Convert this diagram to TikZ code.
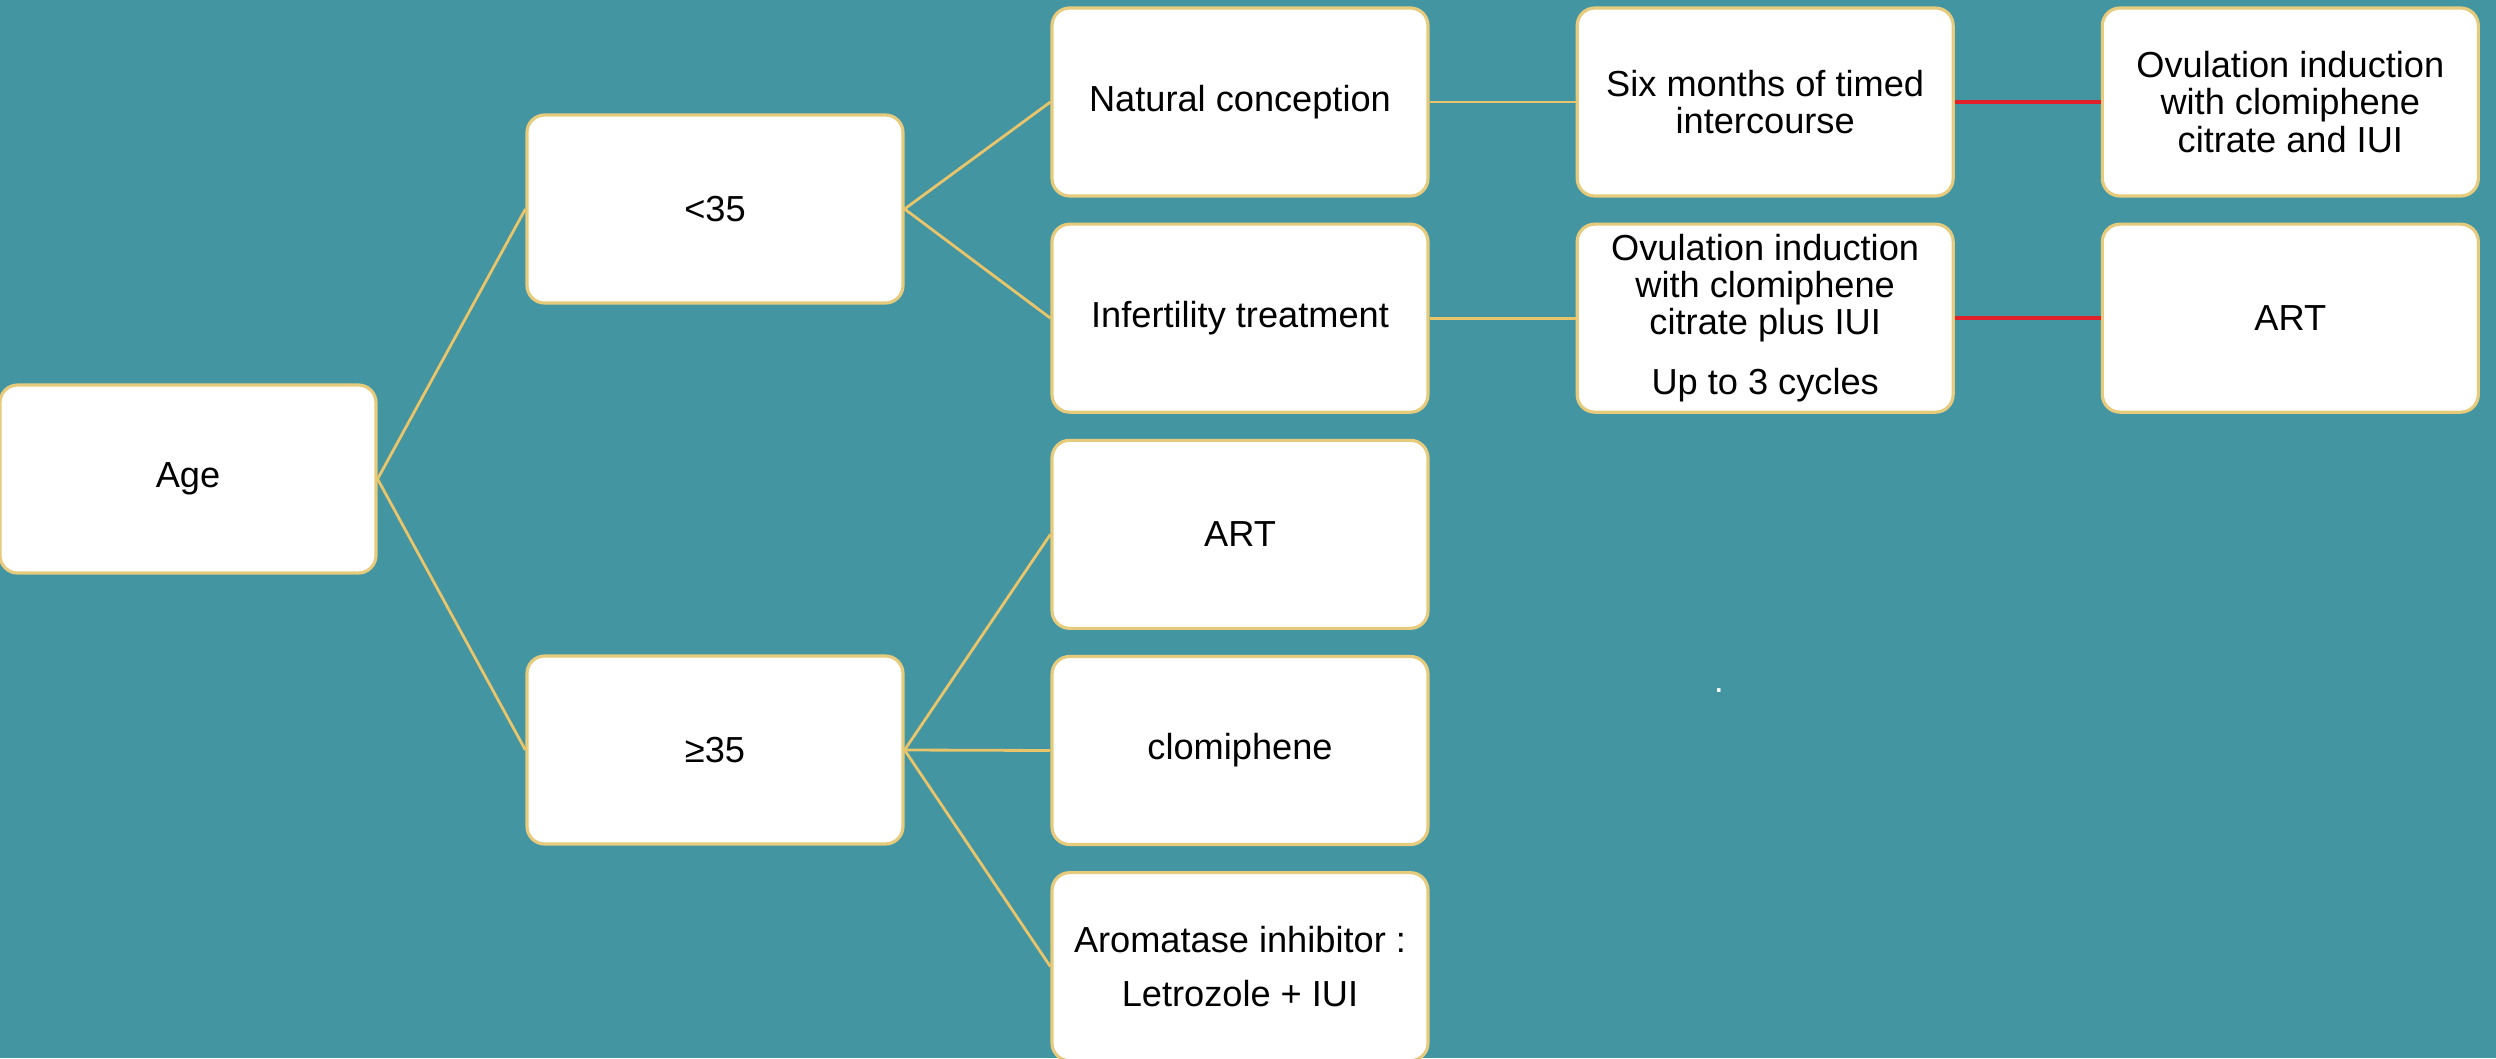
\documentclass[tikz,border=0pt]{standalone}
\usepackage{fontspec}
\setmainfont{Liberation Sans}
\usetikzlibrary{positioning}

\definecolor{bgteal}{HTML}{4495A2}
\definecolor{boxedge}{HTML}{E6CB7C}
\definecolor{linkgold}{HTML}{E8C46A}
\definecolor{linkred}{HTML}{E0202A}

\begin{document}
\begin{tikzpicture}[-,node distance=1.46cm,
  box/.style={rectangle,rounded corners=5pt,draw=boxedge,fill=white,line width=0.9pt,
    minimum width=3.76cm,minimum height=1.88cm,align=center,inner sep=2pt,
    font=\fontsize{10.3}{10.6}\selectfont}]

  \useasboundingbox (0,0) rectangle (24.96,10.58);
  \fill[bgteal] (0,0) rectangle (24.96,10.58);

  \node[box] (age) at (1.88,5.79) {Age};
  \node[box] (lt35) at (7.15,8.49) {<35};
  \node[box] (ge35) at (7.15,3.08) {≥35};

  \node[box] (natural) at (12.40,9.56) {Natural conception};
  \node[box] (infert) [below=0.25cm of natural] {Infertility treatment};
  \node[box] (art) [below=0.25cm of infert] {ART};
  \node[box] (clomi) [below=0.25cm of art] {clomiphene};
  \node[box] (arom) [below=0.25cm of clomi] {Aromatase inhibitor :\\[4.6pt] Letrozole + IUI};

  \node[box] (timed) [right=of natural] {Six months of timed\\ intercourse};
  \node[box] (ovuiui) [right=of timed] {Ovulation induction\\ with clomiphene\\ citrate and IUI};
  \node[box] (ovuplus) [right=of infert] {Ovulation induction\\ with clomiphene\\ citrate plus IUI\\[6.4pt] Up to 3 cycles};
  \node[box] (artlast) [right=of ovuplus] {ART};

  \node[anchor=base,text=white,font=\fontsize{10.3}{10.6}\selectfont] (spot) at (17.19,3.66) {.};

  \path[draw=linkgold,line width=0.8pt]
    (age.east) edge (lt35.west)
    (age.east) edge (ge35.west)
    (lt35.east) edge (natural.west)
    (lt35.east) edge (infert.west)
    (ge35.east) edge (art.west)
    (ge35.east) edge (clomi.west)
    (ge35.east) edge (arom.west)
    (natural) edge (timed)
    (infert) edge (ovuplus);

  \path[draw=linkred,line width=1pt]
    (timed) edge (ovuiui)
    (ovuplus) edge (artlast);
\end{tikzpicture}
\end{document}
